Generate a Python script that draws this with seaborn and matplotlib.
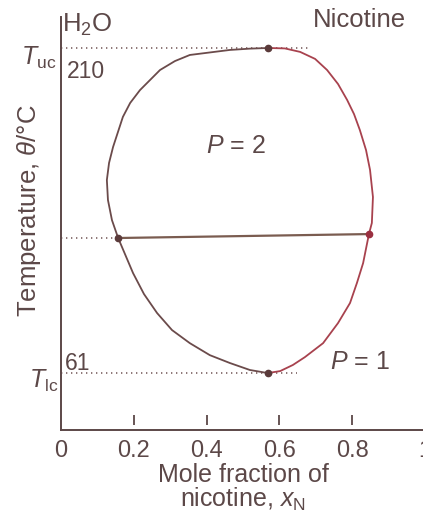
import matplotlib
matplotlib.use("Agg")
import matplotlib.pyplot as plt
import matplotlib.transforms as mtransforms
import seaborn as sns

# liquid-liquid coexistence curve, nicotine / water
T_UC = 210
T_LC = 61
x_crit = [0.569, 0.568]
T_crit = [T_UC, T_LC]

# water-rich branch, upper critical point -> lower critical point
left_x = [0.569, 0.519, 0.464, 0.354, 0.313, 0.272, 0.217, 0.190, 0.170,
          0.143, 0.132, 0.126, 0.129, 0.140, 0.157, 0.198, 0.228, 0.264,
          0.305, 0.354, 0.409, 0.464, 0.519, 0.568]
left_T = [210, 209.7, 209.1, 206.8, 204.0, 199.9, 190.7, 184.8, 178.4,
          164.6, 157.3, 149.5, 140.3, 131.1, 122.9, 106.8, 97.2, 88.5,
          80.7, 74.7, 69.2, 65.6, 62.4, 61]

# nicotine-rich branch, upper critical point -> lower critical point
right_x = [0.569, 0.615, 0.657, 0.698, 0.731, 0.761, 0.786, 0.805, 0.821,
           0.838, 0.849, 0.857, 0.854, 0.846, 0.830, 0.813, 0.794, 0.761,
           0.720, 0.670, 0.637, 0.602, 0.568]
right_T = [210, 209.8, 208.2, 205.0, 199.9, 193.5, 186.2, 179.7, 172.4,
           163.2, 154.1, 141.7, 129.8, 124.7, 111.4, 102.3, 93.1, 83.9,
           74.7, 68.3, 64.7, 61.9, 61]

# tie line
tie_x = [0.157, 0.846]
tie_T = [122.9, 124.7]

xticks = [0, 0.2, 0.4, 0.6, 0.8, 1.0]
xticklabels = ["0", "0.2", "0.4", "0.6", "0.8", "1"]
tick_marks = [0.2, 0.4, 0.6, 0.8]

TEXT = "#5c4848"
BROWN = "#6b4b4b"
RED = "#a8424e"
TIE = "#7a5c50"
DOTS = "#7a6060"

sns.set_theme(style="white")
plt.rcParams["font.family"] = ["Liberation Sans", "DejaVu Sans"]
plt.rcParams["mathtext.fontset"] = "custom"
plt.rcParams["mathtext.rm"] = "Liberation Sans"
plt.rcParams["mathtext.it"] = "Liberation Sans:italic"

fig = plt.figure(figsize=(4.23, 5.14), dpi=100)
ax = fig.add_axes([61 / 423, 84 / 514, 364 / 423, 413 / 514])
ax.set_xlim(0, 1.0)
ax.set_ylim(34.9, 224.2)

# dotted guide lines
dot = dict(color=DOTS, lw=1.2, linestyle=(0, (0.8, 2.2)), zorder=1)
ax.plot([0, 0.684], [T_UC, T_UC], **dot)
ax.plot([0, 0.648], [T_LC, T_LC], **dot)
ax.plot([0, tie_x[0]], [tie_T[0], tie_T[0]], **dot)

line = dict(sort=False, estimator=None, ax=ax)
sns.lineplot(x=left_x, y=left_T, color=BROWN, lw=1.3, **line)
sns.lineplot(x=right_x, y=right_T, color=RED, lw=1.3, **line)
sns.lineplot(x=tie_x, y=tie_T, color=TIE, lw=1.6, **line)

ax.plot(x_crit, T_crit, "o", color="#5a3a3a", ms=4.5, zorder=5)
ax.plot(tie_x[0], tie_T[0], "o", color="#5a3a3a", ms=4.5, zorder=5)
ax.plot(tie_x[1], tie_T[1], "o", color="#9a3040", ms=4.5, zorder=5)

# floating tick marks just above the axis
trans = mtransforms.blended_transform_factory(ax.transData, ax.transAxes)
ax.vlines(tick_marks, 0.012, 0.037, transform=trans, color=TEXT, lw=1.3)

ax.set_xticks(xticks)
ax.set_xticklabels(xticklabels)
ax.set_yticks([])
ax.tick_params(axis="x", length=0, pad=7, labelsize=17, labelcolor=TEXT)

for side in ["top", "right"]:
    ax.spines[side].set_visible(False)
for side in ["left", "bottom"]:
    ax.spines[side].set_color(TEXT)
    ax.spines[side].set_linewidth(1.4)

ax.set_xlabel("Mole fraction of\nnicotine, $x_\\mathrm{N}$", fontsize=18,
              color=TEXT, labelpad=1, linespacing=0.95)
ax.set_ylabel("Temperature, $\\theta$/°C", fontsize=18.5, color=TEXT)
ax.yaxis.set_label_coords(-0.049, 0.53)

kw = dict(color=TEXT, clip_on=False)
ax.text(0.003, 217.3, "H$_2$O", fontsize=18.5, ha="left", va="baseline", **kw)
ax.text(0.821, 219.6, "Nicotine", fontsize=18.5, ha="center", va="baseline", **kw)
ax.text(-0.014, 202.2, "$T_\\mathrm{uc}$", fontsize=18, ha="right", va="baseline", **kw)
ax.text(-0.008, 54.1, "$T_\\mathrm{lc}$", fontsize=18, ha="right", va="baseline", **kw)
ax.text(0.016, 196.2, "210", fontsize=16.5, ha="left", va="baseline", **kw)
ax.text(0.011, 62.4, "61", fontsize=16.5, ha="left", va="baseline", **kw)
ax.text(0.481, 161.9, "$P$ = 2", fontsize=18, ha="center", va="baseline", **kw)
ax.text(0.821, 62.8, "$P$ = 1", fontsize=18, ha="center", va="baseline", **kw)

fig.savefig("out.png", dpi=100)
plt.close(fig)
